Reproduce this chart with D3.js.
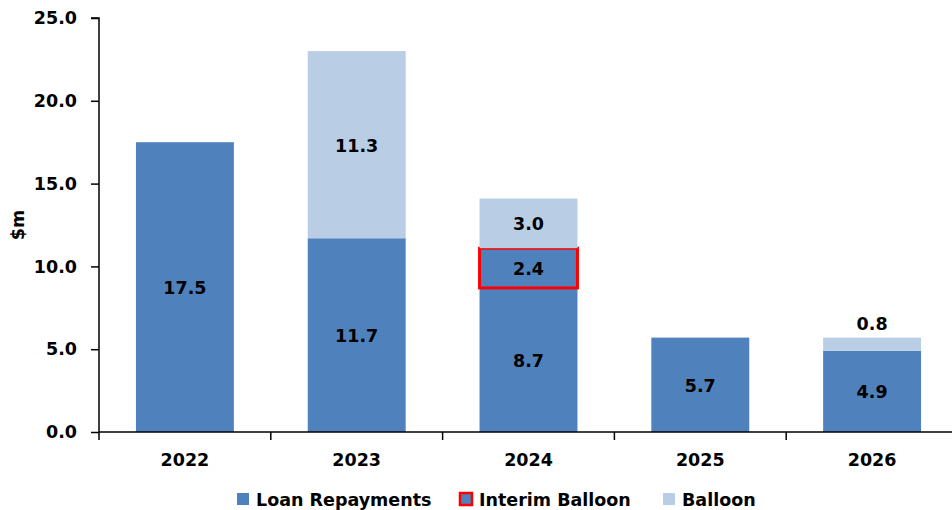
<!DOCTYPE html>
<html>
<head>
<meta charset="utf-8">
<script src="https://cdn.jsdelivr.net/npm/d3@7"></script>
<style>
  html, body { margin: 0; padding: 0; background: #fff; }
  svg { display: block; }
  text { font-family: "DejaVu Sans", Verdana, sans-serif; font-weight: bold; fill: #000; }
</style>
</head>
<body>
<svg id="chart" width="952" height="510"></svg>
<script>
// Loan repayment schedule by year ($m)
const years = ["2022", "2023", "2024", "2025", "2026"];
const loanRepayments = [17.5, 11.7, 8.7, 5.7, 4.9];
const interimBalloon = [0, 0, 2.4, 0, 0];
const balloon = [0, 11.3, 3.0, 0, 0.8];
const yTicks = [0, 5, 10, 15, 20, 25];
const legendLabels = ["Loan Repayments", "Interim Balloon", "Balloon"];

const colors = { loan: "#4F81BD", balloon: "#B9CDE5", outline: "#FF0000" };
const fontSize = 17.5;

const svg = d3.select("#chart");
const plotLeft = 99, plotRight = 958, plotTop = 18, plotBottom = 432;

const x = d3.scaleBand().domain(years).range([plotLeft, plotRight]).paddingInner(0.43).paddingOuter(0.215);
const y = d3.scaleLinear().domain([0, 25]).range([plotBottom, plotTop]);

// stacked segments: loan, interim balloon, balloon
const rows = years.map((yr, i) => ({
  year: yr,
  loan: loanRepayments[i],
  interim: interimBalloon[i],
  balloon: balloon[i]
}));
const stack = d3.stack().keys(["loan", "interim", "balloon"])(rows);

const fill = { loan: colors.loan, interim: colors.loan, balloon: colors.balloon };

stack.forEach(layer => {
  svg.append("g").selectAll("rect")
    .data(layer.filter(d => d[1] - d[0] > 0))
    .join("rect")
    .attr("x", d => x(d.data.year))
    .attr("width", x.bandwidth())
    .attr("y", d => y(d[1]))
    .attr("height", d => y(d[0]) - y(d[1]))
    .attr("fill", fill[layer.key])
    .attr("stroke", layer.key === "interim" ? colors.outline : "none")
    .attr("stroke-width", layer.key === "interim" ? 3 : 0);
});

// value labels: centred in the segment, or above it when the segment is thin
stack.forEach(layer => {
  svg.append("g").selectAll("text")
    .data(layer.filter(d => d[1] - d[0] > 0))
    .join("text")
    .attr("x", d => x(d.data.year) + x.bandwidth() / 2)
    .attr("y", d => {
      const h = y(d[0]) - y(d[1]);
      return h < 25 ? y(d[1]) - 14 : (y(d[0]) + y(d[1])) / 2 + 1;
    })
    .attr("text-anchor", "middle")
    .attr("dominant-baseline", "central")
    .attr("font-size", fontSize)
    .text(d => (d[1] - d[0]).toFixed(1));
});

// y axis
const yAxis = d3.axisLeft(y).tickValues(yTicks).tickFormat(d3.format(".1f")).tickSize(8).tickPadding(14);
const gy = svg.append("g").attr("transform", `translate(${plotLeft},0)`).call(yAxis);
gy.select(".domain").attr("stroke", "#000").attr("stroke-width", 1.5).attr("d", `M-8,${plotTop}H0V${plotBottom}`);
gy.selectAll(".tick line").attr("stroke", "#000").attr("stroke-width", 1.5);
gy.selectAll(".tick text").attr("font-size", fontSize).attr("font-family", "DejaVu Sans").attr("font-weight", "bold").attr("fill", "#000");

// x axis with ticks on category boundaries
svg.append("line").attr("x1", plotLeft).attr("x2", 952).attr("y1", plotBottom).attr("y2", plotBottom)
  .attr("stroke", "#000").attr("stroke-width", 1.5);
const step = x.step();
const boundaries = d3.range(years.length + 1).map(i => plotLeft + i * step);
svg.append("g").selectAll("line").data(boundaries).join("line")
  .attr("x1", d => d).attr("x2", d => d)
  .attr("y1", plotBottom).attr("y2", plotBottom + 8)
  .attr("stroke", "#000").attr("stroke-width", 1.5);
svg.append("g").selectAll("text").data(years).join("text")
  .attr("x", d => x(d) + x.bandwidth() / 2)
  .attr("y", 460)
  .attr("text-anchor", "middle")
  .attr("dominant-baseline", "central")
  .attr("font-size", fontSize)
  .text(d => d);

// y axis title
svg.append("text")
  .attr("transform", "translate(18,225) rotate(-90)")
  .attr("text-anchor", "middle")
  .attr("dominant-baseline", "central")
  .attr("font-size", fontSize)
  .text("$m");

// legend
const legendX = [237, 460, 663];
const lg = svg.append("g");
legendLabels.forEach((lab, i) => {
  const sq = lg.append("rect")
    .attr("x", legendX[i]).attr("y", 493).attr("width", 12).attr("height", 12);
  if (i === 0) sq.attr("fill", colors.loan);
  if (i === 1) sq.attr("fill", colors.loan).attr("stroke", colors.outline).attr("stroke-width", 2.5);
  if (i === 2) sq.attr("fill", colors.balloon);
  lg.append("text")
    .attr("x", legendX[i] + 19).attr("y", 506)
    .attr("font-size", fontSize)
    .text(lab);
});
</script>
</body>
</html>
